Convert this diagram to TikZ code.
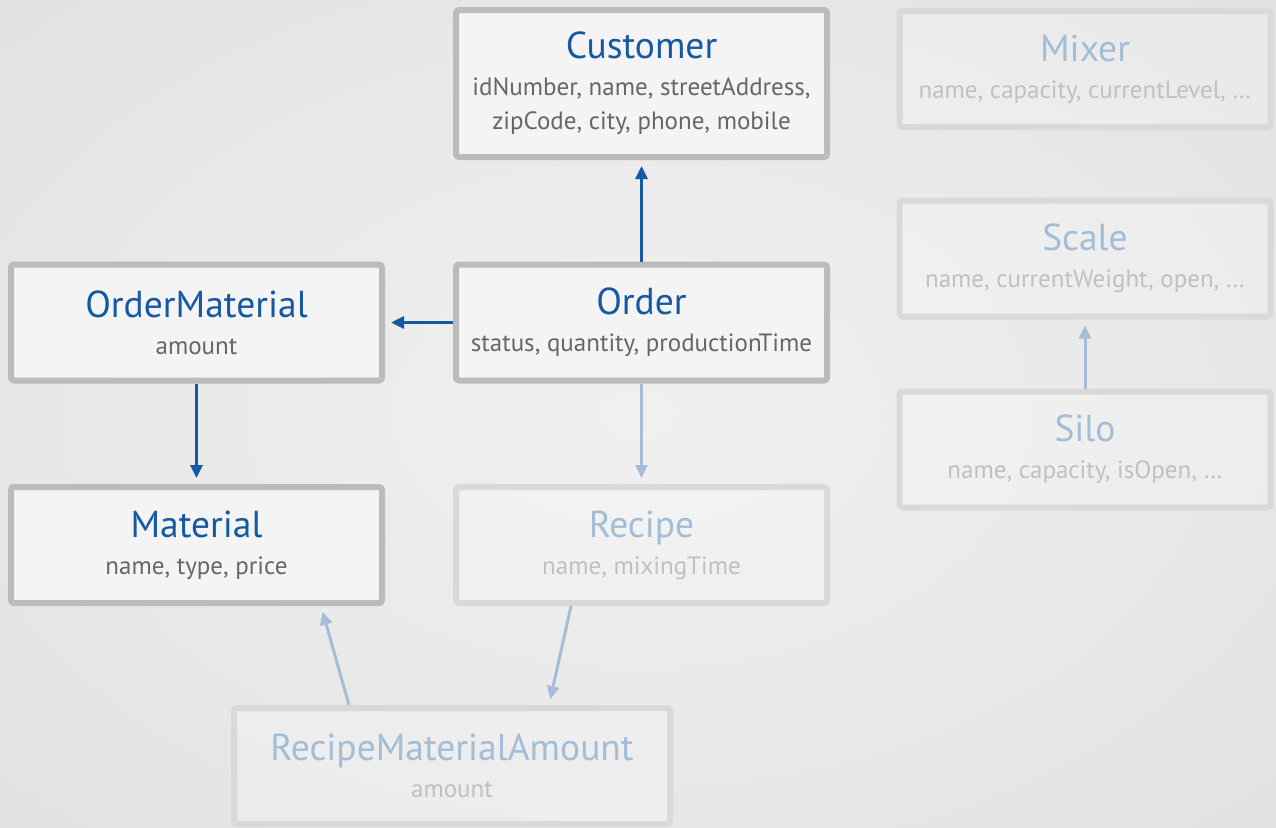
\documentclass[tikz,border=0pt]{standalone}
\usepackage{fontspec}
\setmainfont{PT Sans}
\usetikzlibrary{arrows.meta}

\definecolor{titleblue}{RGB}{21,88,163}
\definecolor{attrgray}{RGB}{102,102,102}
\definecolor{boxfill}{RGB}{244,244,244}
\definecolor{boxline}{RGB}{187,187,187}
\definecolor{fadeline}{RGB}{217,217,217}
\definecolor{fadetitle}{RGB}{163,189,215}
\definecolor{fadegray}{RGB}{192,192,192}
\definecolor{fadeblue}{RGB}{165,189,214}
\definecolor{bginner}{RGB}{240,240,240}
\definecolor{bgouter}{RGB}{204,204,204}

\pgfdeclareradialshading{bgshade}{\pgfpoint{0bp}{0bp}}{color(0bp)=(bginner); color(20bp)=(bginner!80!bgouter); color(50bp)=(bginner!40!bgouter); color(72bp)=(bgouter)}

\newcommand{\ttlfont}{\fontsize{37.5}{40}\selectfont}
\newcommand{\attrfont}{\fontsize{25}{34}\selectfont}

\begin{document}
\begin{tikzpicture}[x=1pt, y=1pt, >={Triangle[length=13pt,width=12pt]}, node distance=445pt,
	entity/.style={rectangle, rounded corners=3pt, draw=boxline, line width=6pt, fill=boxfill, minimum width=371pt, minimum height=116pt, align=center, text=attrgray, inner sep=0pt, font=\attrfont},
	faded/.style={entity, draw=fadeline, fill=white, fill opacity=0.25, text opacity=1, text=fadegray},
	link/.style={->, line width=3pt, draw=titleblue, shorten >=6pt},
	fadelink/.style={link, draw=fadeblue}]
	\shade[shading=bgshade] (0,0) rectangle (1276,-827);
	\useasboundingbox (0,0) rectangle (1276,-827);

	% main entities
	\node[entity] (Order) at (641.5,-322.5) {{\ttlfont\color{titleblue}Order}\\[3pt]status, quantity, productionTime};
	\node[entity] (OrderMaterial) [left of=Order] {{\ttlfont\color{titleblue}OrderMaterial}\\[3pt]amount};
	\node[entity, minimum height=147pt] (Customer) [above of=Order, node distance=239pt] {{\ttlfont\color{titleblue}Customer}\\[3pt]idNumber, name, streetAddress,\\zipCode, city, phone, mobile};
	\node[entity] (Material) [below of=OrderMaterial, node distance=222.5pt] {{\ttlfont\color{titleblue}Material}\\[3pt]name, type, price};

	% faded entities
	\node[faded] (Recipe) [below of=Order, node distance=222.5pt] {{\ttlfont\color{fadetitle}Recipe}\\[3pt]name, mixingTime};
	\node[faded, minimum width=436pt] (RMA) at (452,-766) {{\ttlfont\color{fadetitle}RecipeMaterialAmount}\\[3pt]amount};
	\node[faded] (Mixer) at (1085,-69) {{\ttlfont\color{fadetitle}Mixer}\\[3pt]name, capacity, currentLevel, …};
	\node[faded] (Scale) [below of=Mixer, node distance=189.5pt] {{\ttlfont\color{fadetitle}Scale}\\[3pt]name, currentWeight, open, …};
	\node[faded] (Silo) [below of=Scale, node distance=191pt] {{\ttlfont\color{fadetitle}Silo}\\[3pt]name, capacity, isOpen, …};

	\draw[link] (Order) -- (Customer);
	\draw[link] (Order) -- (OrderMaterial);
	\draw[link] (OrderMaterial) -- (Material);
	\draw[fadelink] (Order) -- (Recipe);
	\draw[fadelink] ([xshift=-70.5pt]Recipe.south) -- ([xshift=97pt]RMA.north);
	\draw[fadelink] ([xshift=-103pt]RMA.north) -- ([xshift=124.5pt]Material.south);
	\draw[fadelink] (Silo) -- (Scale);
\end{tikzpicture}
\end{document}
